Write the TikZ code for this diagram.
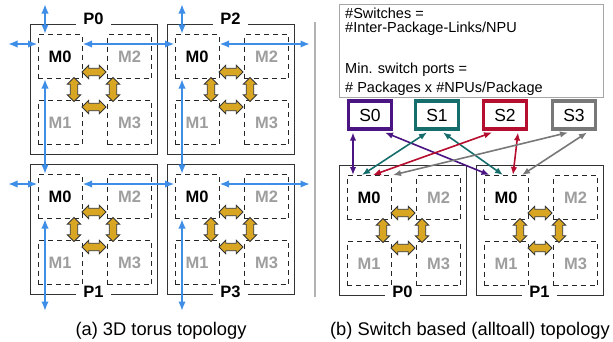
\documentclass[tikz,border=0pt]{standalone}
\usepackage{fontspec}
\setmainfont{Liberation Sans}
\usetikzlibrary{positioning}
\usetikzlibrary{arrows.meta,shapes,shapes.arrows}
\usetikzlibrary{calc}
\definecolor{torusblue}{RGB}{62,142,232}
\definecolor{ringgold}{RGB}{216,166,34}
\definecolor{swpurple}{RGB}{74,20,130}
\definecolor{swteal}{RGB}{22,110,108}
\definecolor{swred}{RGB}{182,14,46}
\definecolor{swgray}{RGB}{120,120,120}
\definecolor{memgray}{RGB}{158,158,158}
\tikzstyle{package}=[draw=black!80,line width=1.3pt,minimum width=127pt,minimum height=130pt,inner sep=0pt,anchor=north west]
\tikzstyle{memory}=[draw=black!85,dash pattern=on 5pt off 4pt,line width=1pt,minimum size=44pt,inner sep=0pt,anchor=north west,text=memgray,font=\bfseries\fontsize{16.5pt}{19pt}\selectfont]
\tikzstyle{pkglabel}=[fill=white,inner xsep=7pt,inner ysep=0.5pt,font=\bfseries\fontsize{16.5pt}{19pt}\selectfont]
\tikzstyle{ring}=[double arrow,double arrow head extend=3pt,minimum height=24pt,inner sep=3.3pt,fill=ringgold,draw=black!80,line width=0.8pt]
\tikzstyle{torus}=[draw=torusblue,line width=1.9pt,{Latex[length=9.5pt,width=7.5pt]}-{Latex[length=9.5pt,width=7.5pt]}]
\tikzstyle{switch}=[line width=3.5pt,minimum width=43pt,minimum height=28pt,inner sep=0pt,font=\fontsize{17.5pt}{20pt}\selectfont]
\tikzstyle{swlink}=[line width=1.6pt,{Latex[length=8pt,width=6.5pt]}-{Latex[length=8pt,width=6.5pt]}]
\tikzstyle{formulabox}=[draw=black!35,line width=1pt,minimum width=264pt,minimum height=93pt,inner sep=0pt,anchor=north west]
\tikzstyle{formulatext}=[anchor=base west,inner sep=0pt,font=\fontsize{14.5pt}{16pt}\selectfont]
\tikzstyle{caption}=[anchor=base,inner sep=0pt,font=\fontsize{18.3pt}{21pt}\selectfont]
\begin{document}
\begin{tikzpicture}[x=1pt,y=-1pt]
\useasboundingbox (0,0) rectangle (613,341);

% packages with their four NPUs
\foreach \x/\y/\name/\label/\ly in {30/24/a0/P0/19, 167/24/a2/P2/19, 30/164/a1/P1/292, 167/164/a3/P3/292, 339/165/b0/P0/292, 476/165/b1/P1/292}
{
  \node[package] (\name) at (\x,\y) {};
  \node[memory,text=black] (\name-m0) at (\x+7.5,\y+10) {M0};
  \node[memory] (\name-m2) at (\x+77,\y+10) {M2};
  \node[memory] (\name-m1) at (\x+7.5,\y+76) {M1};
  \node[memory] (\name-m3) at (\x+77,\y+76) {M3};
  \node[pkglabel] (\name-lbl) at (\x+63.5,\ly) {\label};
  \node[ring] (\name-r0) at (\x+64,\y+48) {};
  \node[ring] (\name-r1) at (\x+64,\y+83) {};
  \node[ring,rotate=90] (\name-r2) at (\x+44,\y+65.5) {};
  \node[ring,rotate=90] (\name-r3) at (\x+83,\y+65.5) {};
  \coordinate (\name-n) at ([xshift=7.5pt]\name-m0.north west);
  \coordinate (\name-s) at ([xshift=7.5pt]\name-m0.south west);
  \coordinate (\name-w) at ([yshift=-10pt]\name-m0.north west);
  \coordinate (\name-e) at ([yshift=-10pt]\name-m0.north east);
}

% torus links
\coordinate (a0-up) at (45,4);
\coordinate (a2-up) at (182,4);
\coordinate (a0-left) at (8,44);
\coordinate (a2-right) at (310,44);
\coordinate (a1-left) at (8,184);
\coordinate (a3-right) at (310,184);
\coordinate (a1-down) at (45,311);
\coordinate (a3-down) at (182,311);
\foreach \source/\dest in {a0-up/a0-n, a2-up/a2-n, a0-left/a0-w, a0-e/a2-w, a2-e/a2-right, a0-s/a1-n, a2-s/a3-n, a1-left/a1-w, a1-e/a3-w, a3-e/a3-right, a1-s/a1-down, a3-s/a3-down}
  \draw[torus] (\source) -- (\dest);

\draw[line width=2pt,black!30] (315,22) -- (315,297);

% switch side
\node[formulabox] (formula) at (339,4) {};
\node[formulatext] (f1) at (345,18.5) {\#Switches =};
\node[formulatext] (f2) at (345,32) {\#Inter-Package-Links/NPU};
\node[formulatext] (f3) at (345,73) {Min. switch ports =};
\node[formulatext] (f4) at (345,92) {\# Packages x \#NPUs/Package};

\foreach \x/\name/\label/\col in {370/s0/S0/swpurple, 437/s1/S1/swteal, 505/s2/S2/swred, 574/s3/S3/swgray}
  \node[switch,draw=\col] (\name) at (\x,115) {\label};

\foreach \source/\xs/\dest/\xd/\col in {s0/-17/b0-m0/6.5/swpurple, s0/15/b1-m0/6/swpurple, s1/-10/b0-m0/15.5/swteal, s1/6/b1-m0/19.5/swteal, s2/-13/b0-m0/26.5/swred, s2/13/b1-m0/29.5/swred, s3/-6/b0-m0/46.5/swgray, s3/13/b1-m0/38.5/swgray}
  \draw[swlink,color=\col] ([xshift=\xs pt,yshift=-1.75pt]\source.south) -- ([xshift=\xd pt]\dest.north west);

\node[caption] (capa) at (161,335) {(a) 3D torus topology};
\node[caption] (capb) at (470,335) {(b) Switch based (alltoall) topology};
\end{tikzpicture}
\end{document}
